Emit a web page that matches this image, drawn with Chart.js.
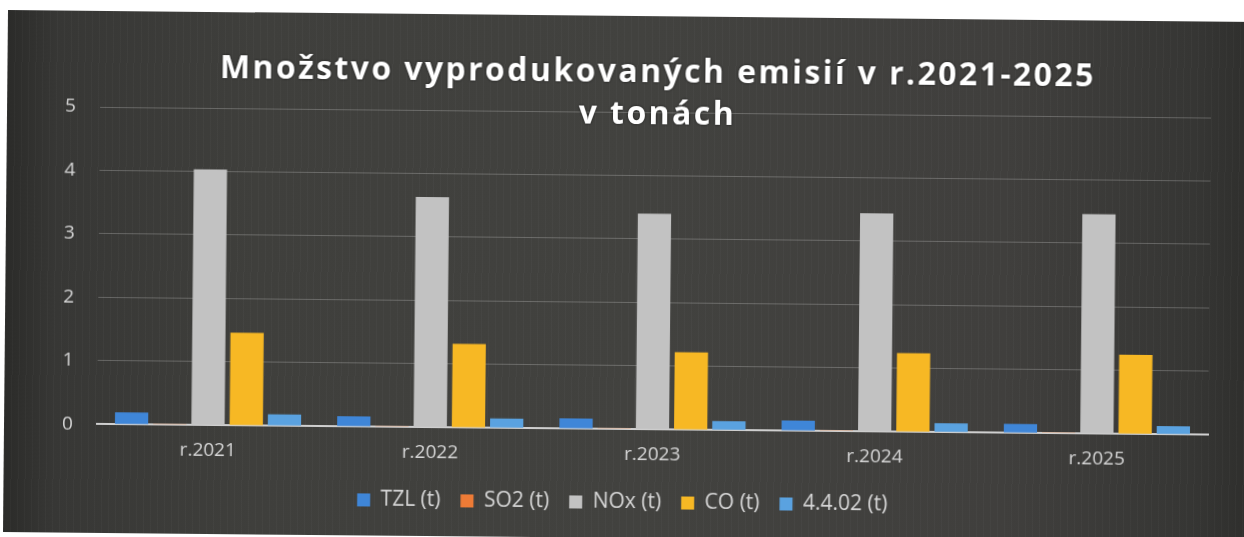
<!DOCTYPE html>
<html>
<head>
<meta charset="utf-8">
<script src="https://cdn.jsdelivr.net/npm/chart.js@4"></script>
<style>
    html, body { margin: 0; padding: 0; background: #ffffff; overflow: hidden; }
    #wrap {
        position: absolute;
        left: 8px;
        top: 10px;
        width: 1250px;
        height: 522px;
        transform: rotate(0.55deg);
        transform-origin: 0 0;
        background:
            repeating-linear-gradient(90deg, rgba(255,255,255,0.025) 0px, rgba(255,255,255,0.025) 1px, rgba(0,0,0,0) 1px, rgba(0,0,0,0) 7px),
            linear-gradient(90deg, #2b2b29 0%, #373735 4%, #3f3f3c 20%, #42423f 50%, #403f3d 80%, #363634 95%, #2e2e2c 100%);
    }
    canvas { display: block; }
</style>
</head>
<body>
<div id="wrap"><canvas id="emChart" width="1250" height="522"></canvas></div>
<script>
const years = ['r.2021', 'r.2022', 'r.2023', 'r.2024', 'r.2025'];
const tzl = [0.19, 0.16, 0.16, 0.16, 0.14];
const so2 = [0.01, 0.01, 0.01, 0.01, 0.01];
const nox = [4.03, 3.63, 3.40, 3.44, 3.46];
const co = [1.46, 1.32, 1.22, 1.24, 1.25];
const x4402 = [0.18, 0.15, 0.14, 0.14, 0.13];
const yTicks = [0, 1, 2, 3, 4, 5];
const titleLines = ['Množstvo vyprodukovaných emisií v r.2021-2025', 'v tonách'];

const fontFam = '"Open Sans", "Noto Sans", sans-serif';

// titulok sa kreslí cez plochu grafu (ako v Exceli)
const overlayTitle = {
    id: 'overlayTitle',
    afterDraw(chart) {
        const ctx = chart.ctx;
        ctx.save();
        ctx.font = 'bold 32px ' + fontFam;
        ctx.letterSpacing = '2.4px';
        ctx.fillStyle = '#ffffff';
        ctx.textAlign = 'center';
        ctx.textBaseline = 'middle';
        ctx.shadowColor = 'rgba(0,0,0,0.6)';
        ctx.shadowBlur = 3;
        const cx = (chart.chartArea.left + chart.chartArea.right) / 2 + 2;
        ctx.fillText(titleLines[0], cx, 57);
        ctx.fillText(titleLines[1], cx, 99);
        ctx.restore();
    }
};

new Chart(document.getElementById('emChart').getContext('2d'), {
    type: 'bar',
    data: {
        labels: years,
        datasets: [
            { label: 'TZL (t)', data: tzl, backgroundColor: '#3f86d8' },
            { label: 'SO2 (t)', data: so2, backgroundColor: '#ee7b36' },
            { label: 'NOx (t)', data: nox, backgroundColor: '#c2c2c2' },
            { label: 'CO (t)', data: co, backgroundColor: '#f7b824' },
            { label: '4.4.02 (t)', data: x4402, backgroundColor: '#5aa2e0' }
        ]
    },
    options: {
        responsive: false,
        animation: false,
        layout: { padding: { left: 34, right: 46, top: 96, bottom: 15 } },
        datasets: {
            bar: { categoryPercentage: 0.86, barPercentage: 0.87 }
        },
        plugins: {
            legend: {
                position: 'bottom',
                labels: {
                    color: '#d6d6d6',
                    font: { family: fontFam, size: 21 },
                    boxWidth: 13,
                    boxHeight: 13,
                    padding: 20
                }
            },
            title: { display: false },
            tooltip: { enabled: false }
        },
        scales: {
            x: {
                grid: { display: false },
                border: { display: true, color: '#cfcfcf', width: 2 },
                ticks: {
                    color: '#d6d6d6',
                    font: { family: fontFam, size: 19 },
                    padding: 6
                }
            },
            y: {
                min: yTicks[0],
                max: yTicks[yTicks.length - 1],
                afterBuildTicks(axis) {
                    axis.ticks = yTicks.map(v => ({ value: v }));
                },
                grid: { color: 'rgba(255,255,255,0.22)', lineWidth: 1, drawTicks: false },
                border: { display: false },
                ticks: {
                    color: '#d6d6d6',
                    font: { family: fontFam, size: 19 },
                    padding: 24
                }
            }
        }
    },
    plugins: [overlayTitle]
});
</script>
</body>
</html>
